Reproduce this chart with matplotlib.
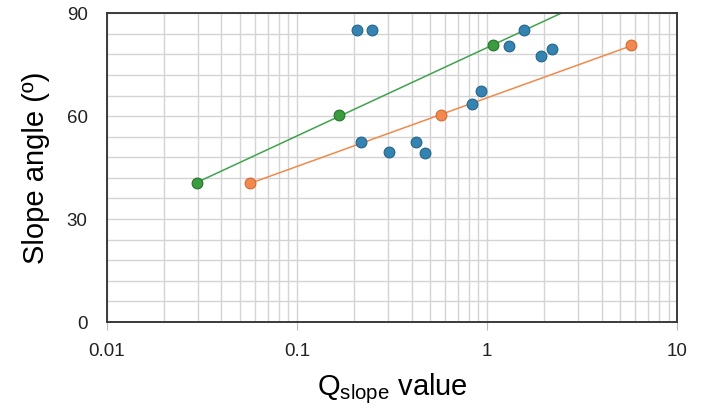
import numpy as np
import matplotlib
matplotlib.use("Agg")
import matplotlib.pyplot as plt
from matplotlib.ticker import FixedLocator, NullFormatter, FuncFormatter

# data
blue_q = [0.207, 0.248, 0.217, 0.305, 0.423, 0.472, 0.834, 0.929, 1.31, 1.57, 1.92, 2.20]
blue_angle = [85, 85, 52.5, 49.5, 52.5, 49.3, 63.5, 67.3, 80.5, 85.2, 77.5, 79.5]
green_q = [0.0298, 0.166, 1.076]
green_angle = [40.5, 60.3, 80.6]
orange_q = [0.0566, 0.573, 5.73]
orange_angle = [40.5, 60.3, 80.6]

x_ticks = [0.01, 0.1, 1, 10]
x_ticklabels = ["0.01", "0.1", "1", "10"]
y_ticks = [0, 30, 60, 90]

plt.rcParams['font.family'] = ['Liberation Sans', 'DejaVu Sans']

fig = plt.figure(figsize=(7.04, 4.11), dpi=100)
ax = fig.add_axes([0.152, 0.2165, 0.810, 0.7515])

ax.set_xscale('log')
ax.set_xlim(0.01, 10)
ax.set_ylim(0, 90)

# grid
ax.xaxis.set_major_locator(FixedLocator(x_ticks))
ax.xaxis.set_minor_locator(FixedLocator(
    [m * 10.0 ** e for e in range(-2, 1) for m in range(2, 10)]))
ax.xaxis.set_minor_formatter(NullFormatter())
ax.xaxis.set_major_formatter(FuncFormatter(lambda v, p: x_ticklabels[x_ticks.index(v)] if v in x_ticks else ""))
ax.yaxis.set_major_locator(FixedLocator(y_ticks))
ax.yaxis.set_minor_locator(FixedLocator(np.arange(0, 91, 6)))
ax.grid(True, which='both', color='#d4d4d4', linewidth=1.0)
ax.set_axisbelow(True)

# log trend lines
def add_trend(xs, ys, color, x_end):
    b, a = np.polyfit(np.log10(xs), ys, 1)
    xx = np.logspace(np.log10(xs[0]), np.log10(x_end), 50)
    ax.plot(xx, a + b * np.log10(xx), color=color, linewidth=1.1, zorder=2)

add_trend(green_q, green_angle, '#3fa34d', 3.0)
add_trend(orange_q, orange_angle, '#f08a4b', orange_q[-1])

ax.scatter(blue_q, blue_angle, s=60, color='#3483b0', edgecolor='#25648a', linewidth=0.8, zorder=3)
ax.scatter(green_q, green_angle, s=60, color='#3a9c3e', edgecolor='#27742b', linewidth=0.8, zorder=3)
ax.scatter(orange_q, orange_angle, s=60, color='#f3884e', edgecolor='#d06a32', linewidth=0.8, zorder=3)

for side in ['left', 'right', 'top', 'bottom']:
    ax.spines[side].set_color('#3a3a3a')
    ax.spines[side].set_linewidth(1.4)

ax.tick_params(axis='x', which='major', length=6, pad=9, labelsize=13.5, color='#bbbbbb', labelcolor='#222222')
ax.tick_params(axis='x', which='minor', length=0)
ax.tick_params(axis='y', which='both', length=0, pad=14, labelsize=13.5, labelcolor='#222222')

ax.set_xlabel(r'Q$_{\mathregular{slope}}$ value', fontsize=21, labelpad=8)
ax.set_ylabel('Slope angle (º)', fontsize=21, labelpad=12)

fig.savefig('out.png', dpi=100)
